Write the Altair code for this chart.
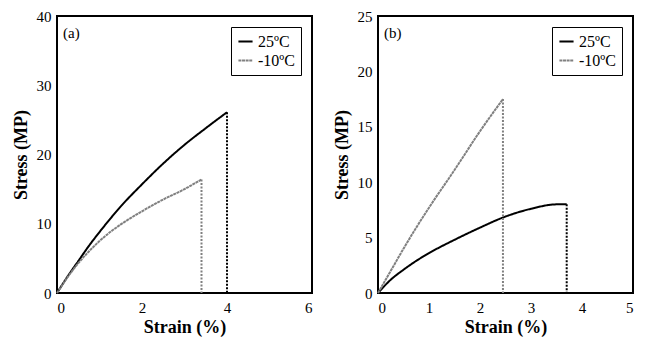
import altair as alt
import pandas as pd

series_names = ["25ºC", "-10ºC"]

# Panel (a)
a_warm_x = [0, 0.25, 0.5, 0.75, 1, 1.25, 1.5, 2, 2.5, 3, 3.5, 4]
a_warm_y = [0, 2.4, 4.6, 6.8, 8.8, 10.7, 12.5, 15.7, 18.7, 21.4, 23.8, 26.1]
a_cold_x = [0, 0.25, 0.5, 0.75, 1, 1.25, 1.5, 2, 2.5, 3, 3.4]
a_cold_y = [0, 2.3, 4.3, 6.0, 7.5, 8.8, 9.9, 11.8, 13.5, 15.0, 16.4]

# Panel (b)
b_warm_x = [0, 0.25, 0.5, 0.75, 1, 1.5, 2, 2.5, 3, 3.5, 3.7]
b_warm_y = [0, 1.2, 2.1, 2.9, 3.6, 4.8, 5.9, 6.9, 7.6, 8.0, 8.0]
b_cold_x = [0, 0.25, 0.5, 0.75, 1, 1.5, 2, 2.45]
b_cold_y = [0, 2.0, 4.0, 5.9, 7.7, 11.1, 14.6, 17.5]

FONT = "Liberation Serif, Times New Roman, serif"
colors = ["#000000", "#808080"]


def curves_df(wx, wy, cx, cy):
    rows = []
    for i, (x, y) in enumerate(zip(wx, wy)):
        rows.append({"series": series_names[0], "strain": x, "stress": y, "i": i})
    for i, (x, y) in enumerate(zip(cx, cy)):
        rows.append({"series": series_names[1], "strain": x, "stress": y, "i": i})
    return pd.DataFrame(rows)


def drops_df(wx, wy, cx, cy):
    return pd.DataFrame([
        {"series": series_names[0], "strain": wx[-1], "stress": wy[-1]},
        {"series": series_names[1], "strain": cx[-1], "stress": cy[-1]},
    ])


def panel(wx, wy, cx, cy, xmax, ymax, xticks, yticks, tag):
    cdf = curves_df(wx, wy, cx, cy)
    ddf = drops_df(wx, wy, cx, cy)
    xs = alt.Scale(domain=[0, xmax], nice=False, zero=True)
    ys = alt.Scale(domain=[0, ymax], nice=False, zero=True)
    xax = alt.Axis(title="Strain (%)", values=xticks, ticks=False, domain=False,
                   grid=False, labelPadding=7, titlePadding=3, format="d")
    yax = alt.Axis(title="Stress (MP)", values=yticks, ticks=False, domain=False,
                   grid=False, labelPadding=6, titlePadding=6, format="d")
    color = alt.Color("series:N", scale=alt.Scale(domain=series_names, range=colors),
                      legend=alt.Legend(title=None, orient="top-right", offset=11,
                                        strokeColor="black", padding=6,
                                        labelFont=FONT, labelFontSize=16,
                                        symbolType="stroke", symbolSize=200,
                                        symbolStrokeWidth=2, rowPadding=2,
                                        labelColor="black"))
    dash = alt.StrokeDash("series:N", scale=alt.Scale(domain=series_names,
                                                      range=[[1, 0], [3, 0.6]]))
    lines = alt.Chart(cdf).mark_line(strokeWidth=2, interpolate="monotone").encode(
        x=alt.X("strain:Q", scale=xs, axis=xax),
        y=alt.Y("stress:Q", scale=ys, axis=yax),
        color=color,
        strokeDash=dash,
        order="i:Q",
    )
    drops = alt.Chart(ddf).mark_rule(strokeWidth=2, strokeDash=[2, 1.5]).encode(
        x="strain:Q",
        y="stress:Q",
        y2=alt.datum(0),
        color=alt.Color("series:N", scale=alt.Scale(domain=series_names, range=colors),
                        legend=None),
    )
    label = alt.Chart(pd.DataFrame({"t": [tag]})).mark_text(
        font=FONT, fontSize=15, align="left", baseline="middle", color="black"
    ).encode(text="t:N", x=alt.value(6), y=alt.value(17))
    return alt.layer(lines, drops, label).properties(width=255, height=277)


pa = panel(a_warm_x, a_warm_y, a_cold_x, a_cold_y, 6, 40, [0, 2, 4, 6], [0, 10, 20, 30, 40], "(a)")
pb = panel(b_warm_x, b_warm_y, b_cold_x, b_cold_y, 5, 25, [0, 1, 2, 3, 4, 5], [0, 5, 10, 15, 20, 25], "(b)")

chart = alt.hconcat(pa, pb, spacing=19).resolve_scale(
    color="independent", strokeDash="independent"
).configure_view(
    stroke="black", strokeWidth=2
).configure_axis(
    labelFont=FONT, labelFontSize=15, labelColor="black",
    titleFont=FONT, titleFontSize=18, titleFontWeight="bold", titleColor="black"
).properties(padding={"left": 3, "top": 0, "right": 0, "bottom": 0})

chart.save("out.html", embed_options={"renderer": "svg", "actions": False})
